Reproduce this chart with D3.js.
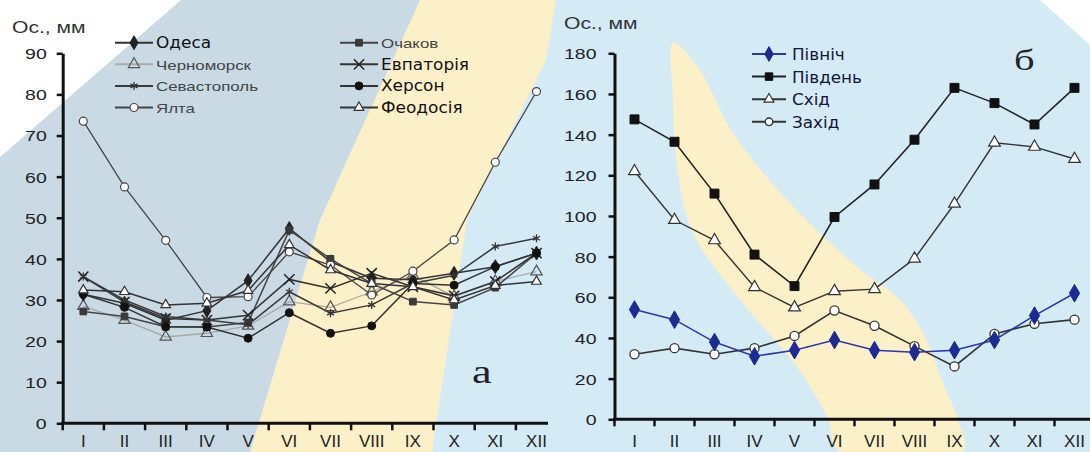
<!DOCTYPE html>
<html>
<head>
<meta charset="utf-8">
<script src="https://cdn.jsdelivr.net/npm/d3@7"></script>
<style>
  body { margin: 0; background: #fff; }
  svg { display: block; }
</style>
</head>
<body>
<svg id="chart" width="1090" height="452"></svg>
<script>
// --- data ---
var months = ['I', 'II', 'III', 'IV', 'V', 'VI', 'VII', 'VIII', 'IX', 'X', 'XI', 'XII'];
var ticksA = [0, 10, 20, 30, 40, 50, 60, 70, 80, 90];
var ticksB = [0, 20, 40, 60, 80, 100, 120, 140, 160, 180];

// панель а - станції
var odesa       = [31.4, 29.2, 25.1, 27.4, 34.7, 47.4, 39.3, 35.3, 34.9, 36.5, 38.1, 41.4];
var ochakiv     = [27.2, 26.0, 23.5, 23.4, 24.5, 47.0, 40.0, 34.0, 29.6, 28.8, 33.0, 41.4];
var chornomorsk = [28.5, 25.1, 21.0, 21.9, 23.7, 29.6, 28.2, 32.0, 36.0, 30.8, 34.5, 36.9];
var yevpatoria  = [35.7, 29.5, 25.5, 25.1, 26.3, 35.0, 32.8, 36.5, 33.2, 31.0, 34.5, 41.4];
var sevastopol  = [35.7, 30.0, 26.0, 25.1, 24.0, 32.0, 26.8, 28.8, 34.0, 36.0, 43.0, 45.0];
var kherson     = [31.4, 28.2, 23.5, 23.4, 20.7, 26.9, 21.9, 23.7, 34.0, 33.6, 38.1, 41.4];
var yalta       = [73.5, 57.5, 44.5, 30.6, 30.8, 41.7, 38.5, 31.2, 37.0, 44.6, 63.5, 80.7];
var feodosia    = [32.4, 32.0, 28.8, 29.2, 32.3, 43.4, 37.3, 34.0, 33.2, 30.0, 33.5, 34.5];

// панель б - сторони
var north = [54, 49, 38, 31, 34, 39, 34, 33, 34, 39, 51, 62];
var south = [147.5, 136.5, 111, 81, 65.5, 99.5, 115.5, 137.5, 163, 155.5, 145, 163];
var east  = [122, 98, 88, 65, 55, 63, 64, 79, 106, 136, 134, 128];
var west  = [32, 35, 32, 35, 41, 53.5, 46, 36, 26, 42, 47, 49];

var svg = d3.select('#chart');

// --- background (водяний знак) ---
var bg = svg.append('g');
bg.append('rect').attr('width', 1090).attr('height', 452).attr('fill', '#d4eaf5');
bg.append('path').attr('fill', '#c9dae4')
    .attr('d', 'M0,157 L181,0 L420,0 L320,220 L250,452 L0,452 Z');
bg.append('path').attr('fill', '#fcf0c8')
    .attr('d', 'M420,0 L556,0 L546,60 L467,220 L432,452 L250,452 L320,220 Z');
// жовта смуга праворуч: права кромка вниз, потім ліва вгору
var bandB = [[673, 43], [698, 67], [733, 133], [787, 200], [857, 267], [900, 300], [923, 333],
             [943, 383], [957, 417], [963, 452], [840, 452], [827, 417], [797, 367], [740, 300],
             [693, 233], [677, 167], [673, 100]];
bg.append('path').attr('fill', '#fcf0c8')
    .attr('d', d3.line().curve(d3.curveCatmullRomClosed)(bandB));
bg.append('path').attr('fill', '#ffffff').attr('d', 'M1040,0 L1090,0 L1090,45 Z');
bg.append('path').attr('fill', '#ffffff').attr('d', 'M0,0 L181,0 L0,157 Z');

// --- helpers ---
function stretched(g, x, y, str, size, family, sx, color, anchor) {
    return g.append('text')
        .attr('transform', 'translate(' + x + ',' + y + ') scale(' + sx + ',1)')
        .attr('font-family', family)
        .attr('font-size', size)
        .attr('fill', color)
        .attr('text-anchor', anchor || 'start')
        .text(str);
}

var ARIAL = '"Liberation Sans", Arial, sans-serif';
var DEJAVU = '"DejaVu Sans", Verdana, sans-serif';
var SERIF = '"Liberation Serif", "Times New Roman", serif';

function symbolPath(type, size) {
    return d3.symbol().type(type).size(size)();
}

function drawSeries(g, x, y, s) {
    var line = d3.line()
        .x(function (d, i) { return x(months[i]) + x.bandwidth() / 2; })
        .y(function (d) { return y(d); });
    g.append('path')
        .datum(s.values)
        .attr('fill', 'none')
        .attr('stroke', s.line)
        .attr('stroke-width', s.width)
        .attr('d', line);
    g.selectAll(null)
        .data(s.values)
        .enter().append('path')
        .attr('transform', function (d, i) {
            return 'translate(' + (x(months[i]) + x.bandwidth() / 2) + ',' + y(d) + ')';
        })
        .attr('d', symbolPath(s.symbol, s.size))
        .attr('fill', s.fill)
        .attr('stroke', s.stroke)
        .attr('stroke-width', s.sw);
}

function drawAxes(g, x, y, ticks, xEnd, labelGap) {
    var yAxis = d3.axisLeft(y).tickValues(ticks).tickSize(6).tickSizeOuter(0).tickPadding(0);
    var ga = g.append('g').attr('transform', 'translate(' + x.range()[0] + ',0)').call(yAxis);
    ga.select('.domain').attr('stroke', '#111').attr('stroke-width', 3);
    ga.selectAll('.tick line').attr('stroke', '#111').attr('stroke-width', 2.5);
    ga.selectAll('.tick text')
        .attr('x', -labelGap / 1.3)
        .attr('dy', '0.36em')
        .attr('transform', 'scale(1.3,1)')
        .attr('font-family', ARIAL)
        .attr('font-size', 15)
        .attr('fill', '#222');

    var y0 = y(0);
    g.append('line')
        .attr('x1', x.range()[0] - 1.5).attr('x2', xEnd)
        .attr('y1', y0).attr('y2', y0)
        .attr('stroke', '#111').attr('stroke-width', 3);
    g.selectAll(null).data(months).enter().append('line')
        .attr('x1', function (d) { return x(d); })
        .attr('x2', function (d) { return x(d); })
        .attr('y1', y0).attr('y2', y0 + 7)
        .attr('stroke', '#111').attr('stroke-width', 2.5);
    g.selectAll(null).data(months).enter().append('text')
        .attr('x', function (d) { return x(d) + x.bandwidth() / 2; })
        .attr('y', 447)
        .attr('text-anchor', 'middle')
        .attr('font-family', ARIAL)
        .attr('font-size', 17)
        .attr('fill', '#222')
        .text(function (d) { return d; });
}

// --- панель а ---
svg.append('defs').append('clipPath').attr('id', 'clipA')
    .append('rect').attr('x', 0).attr('y', 0).attr('width', 548).attr('height', 452);

var gA = svg.append('g').attr('clip-path', 'url(#clipA)');
var xA = d3.scaleBand().domain(months).range([62.7, 62.7 + 12 * 41.2]);
var yA = d3.scaleLinear().domain([0, 90]).range([423.3, 53.3]);

var seriesA = [
    { name: 'Черноморск', values: chornomorsk, symbol: d3.symbolTriangle, size: 55, fill: 'none', stroke: '#555', sw: 1.2, line: '#a9a9a9', width: 1.3, font: ARIAL, fs: 13, sx: 1.3, color: '#444' },
    { name: 'Одеса', values: odesa, symbol: d3.symbolDiamond, size: 55, fill: '#222', stroke: '#222', sw: 1, line: '#333', width: 1.5, font: DEJAVU, fs: 16, sx: 1.06, color: '#111' },
    { name: 'Очаков', values: ochakiv, symbol: d3.symbolSquare, size: 45, fill: '#3a3a3a', stroke: '#3a3a3a', sw: 1, line: '#444', width: 1.5, font: ARIAL, fs: 13, sx: 1.3, color: '#444' },
    { name: 'Евпаторія', values: yevpatoria, symbol: d3.symbolTimes, size: 70, fill: 'none', stroke: '#222', sw: 1.5, line: '#333', width: 1.5, font: DEJAVU, fs: 16, sx: 1.06, color: '#111' },
    { name: 'Севастополь', values: sevastopol, symbol: d3.symbolAsterisk, size: 45, fill: 'none', stroke: '#333', sw: 1.3, line: '#3a3a3a', width: 1.5, font: ARIAL, fs: 13, sx: 1.3, color: '#444' },
    { name: 'Херсон', values: kherson, symbol: d3.symbolCircle, size: 50, fill: '#111', stroke: '#111', sw: 1, line: '#333', width: 1.5, font: DEJAVU, fs: 16, sx: 1.06, color: '#111' },
    { name: 'Ялта', values: yalta, symbol: d3.symbolCircle, size: 50, fill: '#fff', stroke: '#444', sw: 1.2, line: '#444', width: 1.3, font: ARIAL, fs: 13, sx: 1.3, color: '#444' },
    { name: 'Феодосія', values: feodosia, symbol: d3.symbolTriangle, size: 40, fill: '#fff', stroke: '#333', sw: 1.2, line: '#333', width: 1.5, font: DEJAVU, fs: 16, sx: 1.06, color: '#111' }
];

drawAxes(gA, xA, yA, ticksA, 548, 16);
seriesA.forEach(function (s) { drawSeries(gA, xA, yA, s); });

// легенда а
var legendOrderA = ['Одеса', 'Очаков', 'Черноморск', 'Евпаторія', 'Севастополь', 'Херсон', 'Ялта', 'Феодосія'];
var legA = svg.append('g');
legendOrderA.forEach(function (name, i) {
    var s = seriesA.filter(function (d) { return d.name === name; })[0];
    var col = i % 2, row = Math.floor(i / 2);
    var lx = col === 0 ? 115 : 340;
    var ly = 42.7 + row * 21.6;
    legA.append('line').attr('x1', lx).attr('x2', lx + 38).attr('y1', ly).attr('y2', ly)
        .attr('stroke', s.line).attr('stroke-width', 2);
    legA.append('path').attr('transform', 'translate(' + (lx + 19) + ',' + ly + ')')
        .attr('d', symbolPath(s.symbol, s.size))
        .attr('fill', s.fill).attr('stroke', s.stroke).attr('stroke-width', s.sw);
    stretched(legA, lx + 41, ly + 5.5, s.name, s.fs, s.font, s.sx, s.color);
});

stretched(svg, 12, 33, 'Ос., мм', 16, ARIAL, 1.32, '#333');
stretched(svg, 472, 383, 'а', 34, SERIF, 1.3, '#222');

// --- панель б ---
var gB = svg.append('g');
var xB = d3.scaleBand().domain(months).range([614.5, 614.5 + 12 * 40]);
var yB = d3.scaleLinear().domain([0, 180]).range([419.3, 53.3]);

var seriesB = [
    { name: 'Північ', values: north, symbol: d3.symbolDiamond, size: 90, fill: '#1b2a96', stroke: '#1b2a96', sw: 1, line: '#2d35a8', width: 1.5, color: '#15153a' },
    { name: 'Південь', values: south, symbol: d3.symbolSquare, size: 80, fill: '#111', stroke: '#111', sw: 1, line: '#222', width: 1.6, color: '#15153a' },
    { name: 'Схід', values: east, symbol: d3.symbolTriangle, size: 60, fill: '#fff', stroke: '#333', sw: 1.2, line: '#333', width: 1.4, color: '#15153a' },
    { name: 'Захід', values: west, symbol: d3.symbolCircle, size: 65, fill: '#fff', stroke: '#333', sw: 1.3, line: '#333', width: 1.6, color: '#15153a' }
];

drawAxes(gB, xB, yB, ticksB, 1090, 18);
seriesB.slice().reverse().forEach(function (s) { drawSeries(gB, xB, yB, s); });

var legB = svg.append('g');
seriesB.forEach(function (s, i) {
    var lx = 752, ly = 54 + i * 22.6;
    legB.append('line').attr('x1', lx).attr('x2', lx + 34).attr('y1', ly).attr('y2', ly)
        .attr('stroke', s.line).attr('stroke-width', 2);
    legB.append('path').attr('transform', 'translate(' + (lx + 17) + ',' + ly + ')')
        .attr('d', symbolPath(s.symbol, s.size * 0.7))
        .attr('fill', s.fill).attr('stroke', s.stroke).attr('stroke-width', s.sw);
    stretched(legB, lx + 40, ly + 6, s.name, 16, DEJAVU, 1.05, s.color);
});

stretched(svg, 564, 29, 'Ос., мм', 16, ARIAL, 1.32, '#333');
stretched(svg, 1014, 70, 'б', 30, SERIF, 1.35, '#222');
</script>
</body>
</html>
